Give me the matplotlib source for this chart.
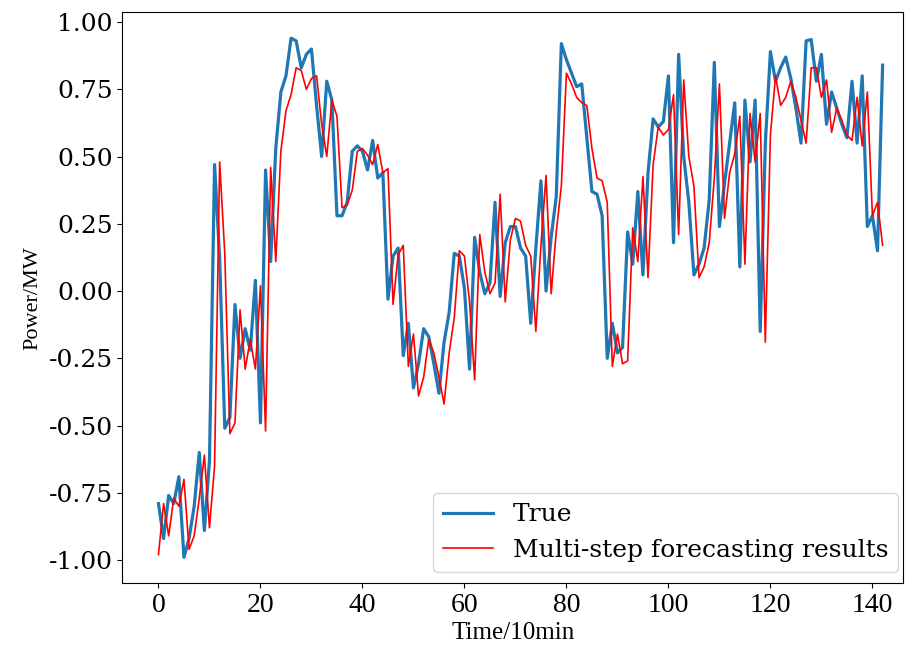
import numpy as np
import matplotlib
matplotlib.use("Agg")
import matplotlib.pyplot as plt

# values (Power/MW, one point per 10 min)
true_vals = [
    -0.79, -0.92, -0.76, -0.79, -0.69, -0.99, -0.92, -0.80, -0.60, -0.89,
    -0.63, 0.47, 0.12, -0.51, -0.47, -0.05, -0.25, -0.14, -0.22, 0.04,
    -0.49, 0.45, 0.11, 0.53, 0.74, 0.80, 0.94, 0.93, 0.83, 0.88,
    0.90, 0.69, 0.50, 0.78, 0.71, 0.28, 0.28, 0.33, 0.52, 0.54,
    0.52, 0.45, 0.56, 0.42, 0.44, -0.03, 0.13, 0.16, -0.24, -0.12,
    -0.36, -0.27, -0.14, -0.17, -0.27, -0.38, -0.19, -0.08, 0.14, 0.13,
    0.01, -0.29, 0.20, 0.07, -0.01, 0.03, 0.33, -0.02, 0.18, 0.24,
    0.24, 0.16, 0.13, -0.12, 0.16, 0.41, 0.00, 0.20, 0.35, 0.92,
    0.86, 0.81, 0.76, 0.77, 0.57, 0.37, 0.36, 0.28, -0.25, -0.12,
    -0.23, -0.21, 0.22, 0.10, 0.37, 0.06, 0.44, 0.64, 0.61, 0.63,
    0.80, 0.18, 0.88, 0.50, 0.33, 0.06, 0.10, 0.16, 0.34, 0.85,
    0.24, 0.40, 0.55, 0.70, 0.09, 0.71, 0.48, 0.71, -0.15, 0.55,
    0.89, 0.78, 0.83, 0.87, 0.79, 0.68, 0.55, 0.93, 0.935, 0.78,
    0.88, 0.62, 0.74, 0.68, 0.62, 0.57, 0.78, 0.55, 0.80, 0.24,
    0.28, 0.15, 0.84,
]

pred_vals = [
    -0.98, -0.79, -0.91, -0.77, -0.80, -0.70, -0.96, -0.91, -0.77, -0.61,
    -0.88, -0.65, 0.48, 0.14, -0.53, -0.49, -0.07, -0.29, -0.18, -0.29,
    0.02, -0.52, 0.46, 0.11, 0.52, 0.67, 0.73, 0.83, 0.82, 0.75,
    0.79, 0.80, 0.62, 0.50, 0.71, 0.65, 0.31, 0.32, 0.375, 0.52,
    0.53, 0.505, 0.47, 0.545, 0.44, 0.455, -0.05, 0.135, 0.17, -0.28,
    -0.16, -0.39, -0.32, -0.18, -0.23, -0.32, -0.42, -0.23, -0.10, 0.15,
    0.13, -0.04, -0.33, 0.21, 0.07, -0.01, 0.03, 0.36, -0.04, 0.19,
    0.27, 0.26, 0.17, 0.13, -0.15, 0.17, 0.43, -0.01, 0.22, 0.39,
    0.81, 0.77, 0.72, 0.70, 0.69, 0.53, 0.42, 0.41, 0.33, -0.28,
    -0.16, -0.27, -0.26, 0.235, 0.11, 0.425, 0.05, 0.47, 0.61, 0.58,
    0.60, 0.73, 0.21, 0.785, 0.50, 0.39, 0.05, 0.09, 0.18, 0.42,
    0.77, 0.27, 0.44, 0.51, 0.65, 0.10, 0.66, 0.48, 0.66, -0.19,
    0.58, 0.80, 0.69, 0.72, 0.78, 0.72, 0.635, 0.55, 0.83, 0.83,
    0.72, 0.785, 0.59, 0.68, 0.635, 0.58, 0.56, 0.72, 0.54, 0.74,
    0.28, 0.33, 0.17,
]

plt.rcParams["axes.unicode_minus"] = False

fig = plt.figure(figsize=(9.05, 6.48), dpi=100)
ax = fig.add_axes([0.1351, 0.0998, 0.8627, 0.8813])

x = np.arange(len(true_vals))
ax.plot(x, true_vals, color="#1f77b4", linewidth=2.3, label="True")
ax.plot(x, pred_vals, color="red", linewidth=1.2, label="Multi-step forecasting results")
ax.set_xlim(-7.1, 146.0)

ax.set_yticks([-1.0, -0.75, -0.5, -0.25, 0.0, 0.25, 0.5, 0.75, 1.0])
ax.yaxis.set_major_formatter(matplotlib.ticker.FormatStrFormatter("%.2f"))

for lab in ax.get_yticklabels():
    lab.set_fontfamily("DejaVu Serif")
    lab.set_fontsize(18)
for lab in ax.get_xticklabels():
    lab.set_fontfamily("Liberation Serif")
    lab.set_fontsize(20)

ax.set_xlabel("Time/10min", fontfamily="Liberation Serif", fontsize=18, labelpad=3)
ax.set_ylabel("Power/MW", fontfamily="Liberation Serif", fontsize=16)

ax.legend(loc="lower right", bbox_to_anchor=(0.994, 0.02), borderaxespad=0,
          prop={"family": "DejaVu Serif", "size": 18})

fig.savefig("out.png", dpi=100)
